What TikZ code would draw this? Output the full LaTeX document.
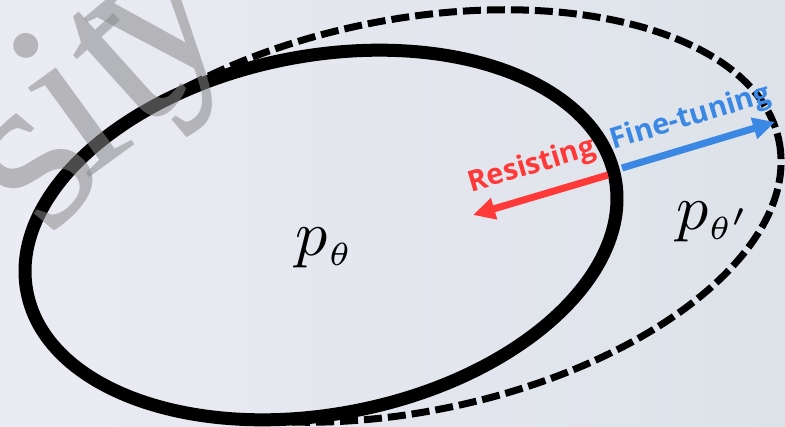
\documentclass[tikz,border=0pt]{standalone}
\usepackage{fontspec}
\usepackage{tikz}
\usetikzlibrary{arrows.meta,positioning}
\newfontfamily\labelfont{Open Sans}
\newfontfamily\markfont{Liberation Serif}
\definecolor{bgleft}{HTML}{EBEBF3}
\definecolor{bgright}{HTML}{DDE2E9}
\definecolor{resistred}{HTML}{FF3838}
\definecolor{tuneblue}{HTML}{3A88E3}
\definecolor{markgray}{HTML}{8A8A8C}
\newcommand{\bigmath}[1]{\scalebox{3.2}{$#1$}}
\tikzset{
  model/.style={draw=black, line width=6.5pt},
  shifted/.style={draw=black, line width=3.5pt, dash pattern=on 9pt off 3pt},
  push/.style={-{Triangle[length=11pt,width=10.5pt]}, line width=3.5pt},
  pushlbl/.style={font=\labelfont\bfseries\fontsize{14.5}{16}\selectfont, sloped, above=3pt, inner sep=2pt},
  dist/.style={inner sep=0pt},
  watermark/.style={font=\markfont\fontsize{118}{118}\selectfont, text=markgray, opacity=0.55, inner sep=0pt}
}

\begin{document}
\begin{tikzpicture}[x=0.5pt, y=-0.5pt]
 \useasboundingbox (0,0) rectangle (785,427);
 \clip (0,0) rectangle (785,427);
 \shade[left color=bgleft, right color=bgright] (0,0) rectangle (785,427);

 % the two distributions
 \begin{scope}[even odd rule]
  \clip (0,0) rectangle (785,427) (321,235) ellipse[x radius=299.5, y radius=179, rotate=11];
  \draw[shifted] (406.5,216) ellipse[x radius=380, y radius=196, rotate=11.35];
 \end{scope}
 \draw[model] (321,235) ellipse[x radius=299.5, y radius=179, rotate=11];

 % forces on the boundary
 \coordinate (rs) at (608,175);
 \coordinate (re) at (473,215);
 \coordinate (fs) at (622,168);
 \coordinate (fe) at (775,122);
 \draw[push, draw=resistred, fill=resistred] (rs) -- node[pushlbl, text=resistred, above=4pt] {Resisting} (re);
 \draw[push, draw=tuneblue, fill=tuneblue] (fs) -- node[pushlbl, text=tuneblue] {Fine-tuning} (fe);

 \node[dist] (ptheta) at (325,248) {\bigmath{p_{\scriptscriptstyle\theta}}};
 \node[dist] (pthetap) at (714,222) {\bigmath{p_{\scriptscriptstyle\theta'}}};

 % watermark letters
 \node[watermark, rotate=50] (mark-s) at (38,170) {s};
 \node[watermark, rotate=36] (mark-i) at (66,98) {i};
 \node[watermark, rotate=42] (mark-t) at (122,64) {t};
 \node[watermark, rotate=40] (mark-y) at (178,44) {y};
\end{tikzpicture}
\end{document}
